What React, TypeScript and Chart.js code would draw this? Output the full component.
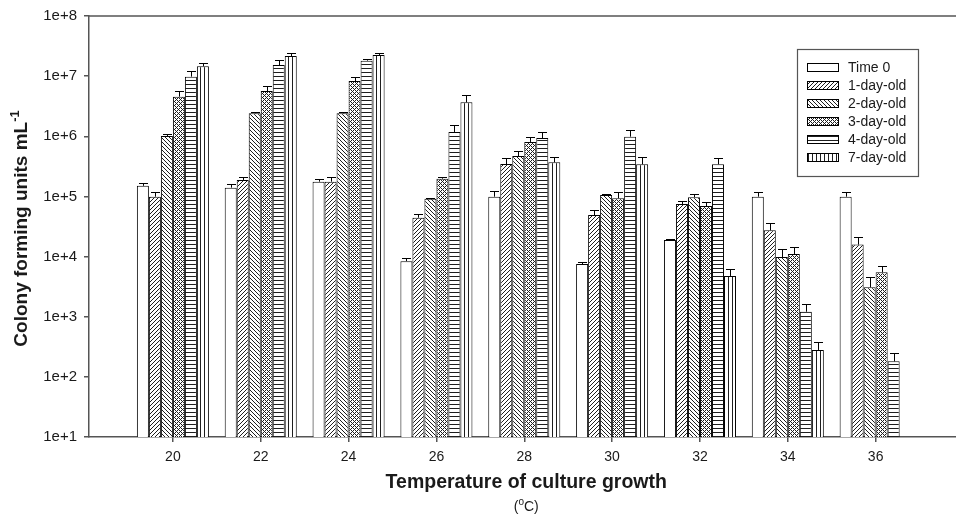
import React, { useEffect, useRef } from 'react';
import { Chart, registerables } from 'chart.js';

Chart.register(...registerables);

// ---------------- data ----------------
const temperatures = [20, 22, 24, 26, 28, 30, 32, 34, 36];
const seriesNames = ['Time 0', '1-day-old', '2-day-old', '3-day-old', '4-day-old', '7-day-old'];
const yTickExponents = [1, 2, 3, 4, 5, 6, 7, 8];

const time0 = [1.5e5, 1.4e5, 1.76e5, 8.4e3, 9.9e4, 7.5e3, 1.89e4, 9.9e4, 9.9e4];
const time0Err = [1.7e4, 2.3e4, 1.7e4, 1.2e3, 2.6e4, 7e2, 5e2, 2.1e4, 2.1e4];
const day1 = [9.9e4, 1.88e5, 1.76e5, 4.43e4, 3.46e5, 4.91e4, 7.49e4, 2.73e4, 1.58e4];
const day1Err = [1.8e4, 2.5e4, 3.2e4, 6.2e3, 9.5e4, 1.04e4, 1.0e4, 8.4e3, 5.6e3];
const day2 = [1.01e6, 2.41e6, 2.41e6, 9.17e4, 4.7e5, 1.06e5, 9.68e4, 9.84e3, 3.08e3];
const day2Err = [8e4, 1.2e5, 9e4, 2e3, 1.07e5, 2e3, 1.3e4, 3.4e3, 1.44e3];
const day3 = [4.55e6, 5.66e6, 8.3e6, 1.97e5, 8.04e5, 9.31e4, 6.93e4, 1.1e4, 5.48e3];
const day3Err = [1.18e6, 1.2e6, 1.27e6, 1.4e4, 1.69e5, 2.4e4, 1.07e4, 3.6e3, 1.57e3];
const day4 = [9.8e6, 1.53e7, 1.81e7, 1.18e6, 9.37e5, 9.85e5, 3.42e5, 1.21e3, 181];
const day4Err = [2.4e6, 3.3e6, 1.2e6, 3.4e5, 2.43e5, 2.85e5, 9.9e4, 4.2e2, 65];
const day7 = [1.46e7, 2.16e7, 2.25e7, 3.67e6, 3.7e5, 3.42e5, 4.76e3, 280, null];
const day7Err = [1.8e6, 2.9e6, 2.0e6, 1.25e6, 8.8e4, 1.16e5, 1.39e3, 96, null];

const seriesValues: (number | null)[][] = [time0, day1, day2, day3, day4, day7];
const seriesErrors: (number | null)[][] = [time0Err, day1Err, day2Err, day3Err, day4Err, day7Err];
const patternKinds = ['none', 'fwd', 'back', 'cross', 'horiz', 'vert'];

const FONT = '"Liberation Sans", Arial, Helvetica, sans-serif';
const AXIS_COLOR = '#555';
const TEXT_COLOR = '#1a1a1a';

function makePattern(kind: string): CanvasPattern | string {
  if (kind === 'none') return '#ffffff';
  const s = 4;
  const c = document.createElement('canvas');
  c.width = s;
  c.height = s;
  const ctx = c.getContext('2d')!;
  const img = ctx.createImageData(s, s);
  for (let y = 0; y < s; y++) {
    for (let x = 0; x < s; x++) {
      let on = false;
      if (kind === 'fwd') on = (x + y) % s === s - 1;
      if (kind === 'back') on = ((x - y) % s + s) % s === 0;
      if (kind === 'cross') on = (x + y) % s === s - 1 || ((x - y) % s + s) % s === 1;
      if (kind === 'horiz') on = y === 0;
      if (kind === 'vert') on = x === 0;
      const i = (y * s + x) * 4;
      const v = on ? 30 : 255;
      img.data[i] = v;
      img.data[i + 1] = v;
      img.data[i + 2] = v;
      img.data[i + 3] = 255;
    }
  }
  ctx.putImageData(img, 0, 0);
  return ctx.createPattern(c, 'repeat')!;
}

const errorBarPlugin = {
  id: 'errorBars',
  afterDatasetsDraw(chart: any) {
    const ctx = chart.ctx;
    const yScale = chart.scales.y;
    ctx.save();
    ctx.strokeStyle = '#000';
    ctx.lineWidth = 1;
    chart.data.datasets.forEach((_ds: any, di: number) => {
      const meta = chart.getDatasetMeta(di);
      meta.data.forEach((bar: any, i: number) => {
        const v = seriesValues[di][i];
        const e = seriesErrors[di][i];
        if (v == null || e == null) return;
        const x = Math.round(bar.x) + 0.5;
        const yBar = bar.y;
        const yTop = Math.round(yScale.getPixelForValue(v + e)) + 0.5;
        ctx.beginPath();
        ctx.moveTo(x, yBar);
        ctx.lineTo(x, yTop);
        ctx.moveTo(x - 4.5, yTop);
        ctx.lineTo(x + 4.5, yTop);
        ctx.stroke();
      });
    });
    ctx.restore();
  },
};

const decorPlugin = {
  id: 'decor',
  afterDraw(chart: any) {
    const ctx = chart.ctx;
    const ca = chart.chartArea;
    const patterns = chart.data.datasets.map((d: any) => d.backgroundColor);
    ctx.save();
    // top frame line
    ctx.strokeStyle = AXIS_COLOR;
    ctx.lineWidth = 1.5;
    ctx.beginPath();
    ctx.moveTo(ca.left, ca.top);
    ctx.lineTo(ca.right, ca.top);
    ctx.stroke();

    // legend
    const lx = ca.left + 708;
    const ly = ca.top + 33;
    const lw = 121;
    const lh = 127;
    ctx.fillStyle = '#fff';
    ctx.fillRect(lx, ly, lw, lh);
    ctx.strokeStyle = AXIS_COLOR;
    ctx.lineWidth = 1.2;
    ctx.strokeRect(lx + 0.5, ly + 0.5, lw, lh);
    seriesNames.forEach((name, i) => {
      const cy = ly + 18 + i * 18;
      ctx.fillStyle = patterns[i];
      ctx.fillRect(lx + 10, cy - 4, 31, 8);
      ctx.strokeStyle = '#000';
      ctx.lineWidth = 1;
      ctx.strokeRect(lx + 10.5, cy - 3.5, 31, 8);
      ctx.fillStyle = TEXT_COLOR;
      ctx.font = `14px ${FONT}`;
      ctx.textAlign = 'left';
      ctx.textBaseline = 'middle';
      ctx.fillText(name, lx + 51, cy + 1);
    });

    // x title
    const cx = (ca.left + ca.right) / 2;
    ctx.fillStyle = TEXT_COLOR;
    ctx.font = `bold 19.5px ${FONT}`;
    ctx.textAlign = 'center';
    ctx.textBaseline = 'middle';
    ctx.fillText('Temperature of culture growth', cx, 483);
    // (°C)
    const p1 = '(';
    const p2 = 'C)';
    ctx.font = `14px ${FONT}`;
    const w1 = ctx.measureText(p1).width;
    const w3 = ctx.measureText(p2).width;
    ctx.font = `10px ${FONT}`;
    const w2 = ctx.measureText('o').width;
    const tot = w1 + w2 + w3;
    let sx = cx - tot / 2;
    ctx.textAlign = 'left';
    ctx.font = `14px ${FONT}`;
    ctx.fillText(p1, sx, 507);
    sx += w1;
    ctx.font = `10px ${FONT}`;
    ctx.fillText('o', sx, 502);
    sx += w2;
    ctx.font = `14px ${FONT}`;
    ctx.fillText(p2, sx, 507);

    // y title (rotated)
    ctx.translate(22, (ca.top + ca.bottom) / 2 + 2);
    ctx.rotate(-Math.PI / 2);
    const main = 'Colony forming units mL';
    const sup = '-1';
    ctx.font = `bold 19px ${FONT}`;
    const mw = ctx.measureText(main).width;
    ctx.font = `bold 13px ${FONT}`;
    const sw = ctx.measureText(sup).width;
    const start = -(mw + sw) / 2;
    ctx.textAlign = 'left';
    ctx.textBaseline = 'middle';
    ctx.font = `bold 19px ${FONT}`;
    ctx.fillText(main, start, 0);
    ctx.font = `bold 13px ${FONT}`;
    ctx.fillText(sup, start + mw, -7);
    ctx.restore();
  },
};

export default function App() {
  const ref = useRef<HTMLCanvasElement | null>(null);

  useEffect(() => {
    if (!ref.current) return;
    document.body.style.overflow = 'hidden';
    const datasets = seriesNames.map((name, si) => ({
      label: name,
      data: temperatures.map((t, i) => ({ x: t, y: seriesValues[si][i] })),
      backgroundColor: makePattern(patternKinds[si]),
      borderColor: '#000',
      borderWidth: 1,
      categoryPercentage: 0.82,
      barPercentage: 1.0,
    }));

    const chart = new Chart(ref.current, {
      type: 'bar',
      data: { datasets: datasets as any },
      options: {
        animation: false,
        responsive: false,
        layout: { padding: { top: 16, left: 0, right: 11.5, bottom: 0 } },
        plugins: {
          legend: { display: false },
          tooltip: { enabled: false },
          title: { display: false },
        },
        scales: {
          x: {
            type: 'linear',
            offset: false,
            min: 18.09,
            max: 38,
            afterBuildTicks: (scale: any) => {
              scale.ticks = temperatures.map((v) => ({ value: v }));
            },
            afterFit: (scale: any) => {
              scale.height = 80;
            },
            ticks: {
              font: { family: FONT, size: 14 },
              color: TEXT_COLOR,
              padding: 7,
              maxRotation: 0,
              autoSkip: false,
              callback: (v: any) => String(v),
            },
            grid: {
              offset: false,
              drawOnChartArea: false,
              drawTicks: true,
              tickLength: 5,
              color: AXIS_COLOR,
              lineWidth: 1.5,
            },
            border: { display: true, color: AXIS_COLOR, width: 1.5 },
          },
          y: {
            type: 'logarithmic',
            min: 10,
            max: 1e8,
            afterBuildTicks: (scale: any) => {
              scale.ticks = yTickExponents.map((e) => ({ value: Math.pow(10, e) }));
            },
            afterFit: (scale: any) => {
              scale.width = 89;
            },
            ticks: {
              font: { family: FONT, size: 15 },
              color: TEXT_COLOR,
              padding: 7,
              autoSkip: false,
              callback: (v: any) => '1e+' + Math.round(Math.log10(Number(v))),
            },
            grid: {
              drawOnChartArea: false,
              drawTicks: true,
              tickLength: 5,
              color: AXIS_COLOR,
              lineWidth: 1.5,
            },
            border: { display: true, color: AXIS_COLOR, width: 1.5 },
          },
        },
      },
      plugins: [errorBarPlugin, decorPlugin],
    });
    return () => chart.destroy();
  }, []);

  return (
    <canvas
      ref={ref}
      width={975}
      height={517}
      style={{ position: 'fixed', left: 0, top: 0, background: '#fff' }}
    />
  );
}
